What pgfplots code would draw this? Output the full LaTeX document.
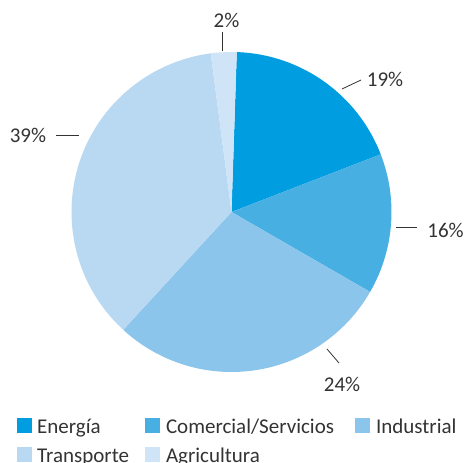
\documentclass[border=0pt]{standalone}
\usepackage{pgfplots}
\pgfplotsset{compat=1.18}
\usepackage{fontspec}
\setmainfont{Carlito}
\definecolor{cE}{HTML}{009EE0}
\definecolor{cC}{HTML}{48AFE3}
\definecolor{cI}{HTML}{8CC5EC}
\definecolor{cT}{HTML}{B9D8F1}
\definecolor{cA}{HTML}{CFE4F6}
\definecolor{txt}{HTML}{333333}
\pgfplotsset{mysq/.style={legend image code/.code={\fill[##1] (0bp,-6bp) rectangle (15bp,9bp);}}}
% shares as drawn (percent), start at 88.1 deg, clockwise
% Energia 18.6, Comercial 14.2, Industrial 28.5, Transporte 36.1, Agricultura 2.6
\begin{document}
\begin{tikzpicture}
\begin{axis}[
  scale only axis, width=466bp, height=463bp,
  xmin=0, xmax=466, ymin=0, ymax=463, y dir=reverse,
  axis lines=none, clip=false,
  legend columns=3,
  legend style={at={(axis cs:17,418)}, anchor=north west, draw=none, fill=none,
    inner sep=0pt, font=\fontsize{21bp}{25bp}\selectfont, text=txt,
    nodes={inner sep=0pt, text=txt},
    /tikz/column 1/.style={column sep=5bp},
    /tikz/column 2/.style={column sep=16bp},
    /tikz/column 3/.style={column sep=6bp},
    /tikz/column 4/.style={column sep=21bp},
    /tikz/column 5/.style={column sep=6bp},
    /tikz/row sep=12bp},
  legend cell align=left,
]
\addlegendimage{mysq, fill=cE, draw=none}\addlegendentry{Energía}
\addlegendimage{mysq, fill=cC, draw=none}\addlegendentry{Comercial/Servicios}
\addlegendimage{mysq, fill=cI, draw=none}\addlegendentry{Industrial}
\addlegendimage{mysq, fill=cT, draw=none}\addlegendentry{Transporte}
\addlegendimage{mysq, fill=cA, draw=none}\addlegendentry{Agricultura}
% wedges (angles from shares: 18.6, 14.2, 28.5, 36.1, 2.6 %)
\fill[cE] (axis cs:231.5,212) -- ++(88.1:160bp) arc[start angle=88.1, end angle=21.14, radius=160bp] -- cycle;
\fill[cC] (axis cs:231.5,212) -- ++(21.14:160bp) arc[start angle=21.14, end angle=-29.98, radius=160bp] -- cycle;
\fill[cI] (axis cs:231.5,212) -- ++(-29.98:160bp) arc[start angle=-29.98, end angle=-132.58, radius=160bp] -- cycle;
\fill[cT] (axis cs:231.5,212) -- ++(-132.58:160bp) arc[start angle=-132.58, end angle=-262.54, radius=160bp] -- cycle;
\fill[cA] (axis cs:231.5,212) -- ++(-262.54:160bp) arc[start angle=-262.54, end angle=-271.9, radius=160bp] -- cycle;
% leaders
\draw[txt, line width=0.8bp] (axis cs:222.3,32) -- (axis cs:222.3,51);
\draw[txt, line width=0.8bp] (axis cs:342,89) -- (axis cs:361,80);
\draw[txt, line width=0.8bp] (axis cs:56,135) -- (axis cs:79,135);
\draw[txt, line width=0.8bp] (axis cs:396,227) -- (axis cs:417,227);
\draw[txt, line width=0.8bp] (axis cs:327,349) -- (axis cs:339,363);
% labels
\begin{scope}[every node/.style={text=txt, inner sep=0pt, anchor=base, font=\fontsize{21bp}{25bp}\selectfont}]
\node at (axis cs:226.5,28) {2\%};
\node at (axis cs:385,87) {19\%};
\node at (axis cs:28,142) {39\%};
\node at (axis cs:445.5,237) {16\%};
\node at (axis cs:342,391) {24\%};
\end{scope}
\end{axis}
\pgfresetboundingbox
\path (0,0) rectangle (466bp,463bp);
\end{tikzpicture}
\end{document}
